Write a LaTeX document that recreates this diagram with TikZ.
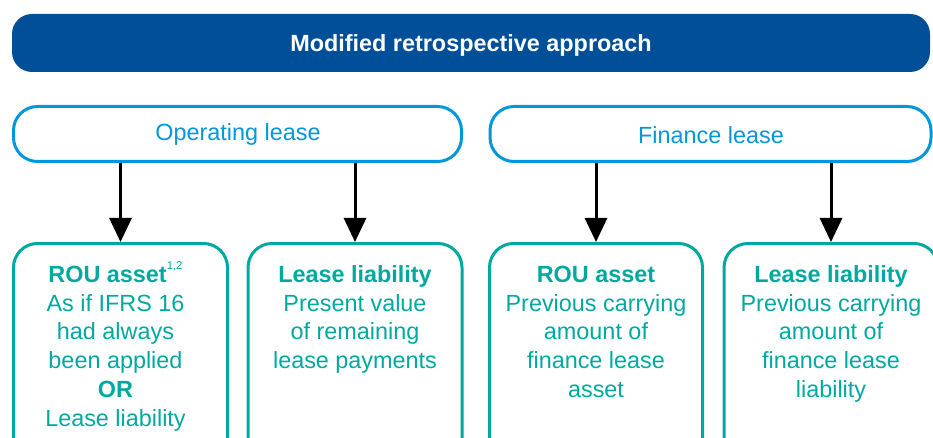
\documentclass[tikz,border=0pt]{standalone}
\usepackage{fontspec}
\setmainfont{Liberation Sans}
\usetikzlibrary{arrows.meta,positioning}
\definecolor{titleblue}{HTML}{004F98}
\definecolor{lblue}{HTML}{0098DB}
\definecolor{kteal}{HTML}{00A9A0}
\begin{document}
\begin{tikzpicture}[x=1pt,y=-1pt,
  titlebar/.style={fill=titleblue, rounded corners=20pt, minimum width=918pt, minimum height=58pt, inner sep=0pt, text=white, text height=16.8pt, text depth=0pt, font=\fontsize{23.4}{28}\selectfont\bfseries},
  topbox/.style={draw=lblue, line width=3pt, rounded corners=24pt, minimum height=55pt, inner sep=0pt, text=lblue, font=\fontsize{23.4}{28}\selectfont},
  botbox/.style={draw=kteal, line width=3pt, rounded corners=24pt, minimum height=230pt, minimum width=214pt, inner sep=0pt},
  boxtext/.style={inner sep=0pt, align=center, text=kteal, font=\fontsize{23.4}{28.8}\selectfont},
  arr/.style={line width=3pt, -{Triangle[width=22pt,length=24pt]}}]
\useasboundingbox (0,0) rectangle (933,438);
\clip (0,0) rectangle (933,438);

\node[titlebar] (title) at (471,43) {Modified retrospective approach};

\node[topbox, minimum width=448pt] (op) at (237.5,134) {};
\node[topbox, minimum width=441pt] (fin) at (710.5,134) {};
\node[text=lblue, font=\fontsize{23.4}{28}\selectfont, inner sep=0pt, text height=16.8pt, text depth=0pt] (opt) at (238,132.5) {Operating lease};
\node[text=lblue, font=\fontsize{23.4}{28}\selectfont, inner sep=0pt, text height=16.8pt, text depth=0pt] (fint) at (711,135) {Finance lease};

\node[botbox] (b1) at (120.5,358.5) {};
\node[botbox] (b2) at (355,358.5) {};
\node[botbox, minimum width=213pt] (b3) at (596,358.5) {};
\node[botbox] (b4) at (831,358.5) {};

\draw[arr] (op.south -| b1.north) -- (b1.north);
\draw[arr] (op.south -| b2.north) -- (b2.north);
\draw[arr] (fin.south -| b3.north) -- (b3.north);
\draw[arr] (fin.south -| b4.north) -- (b4.north);

\node[boxtext, below=18pt of b1.north, xshift=-5pt] (t1) {\rule{0pt}{22pt}\textbf{ROU asset}\raisebox{13pt}{\fontsize{11.3}{12}\selectfont 1,2}\\As if IFRS 16\\had always\\been applied\\\textbf{OR}\\Lease liability};
\node[boxtext, below=18pt of b2.north] (t2) {\rule{0pt}{22pt}\textbf{Lease liability}\\Present value\\of remaining\\lease payments};
\node[boxtext, below=18pt of b3.north] (t3) {\rule{0pt}{22pt}\textbf{ROU asset}\\Previous carrying\\amount of\\finance lease\\asset};
\node[boxtext, below=18pt of b4.north] (t4) {\rule{0pt}{22pt}\textbf{Lease liability}\\Previous carrying\\amount of\\finance lease\\liability};
\end{tikzpicture}
\end{document}
